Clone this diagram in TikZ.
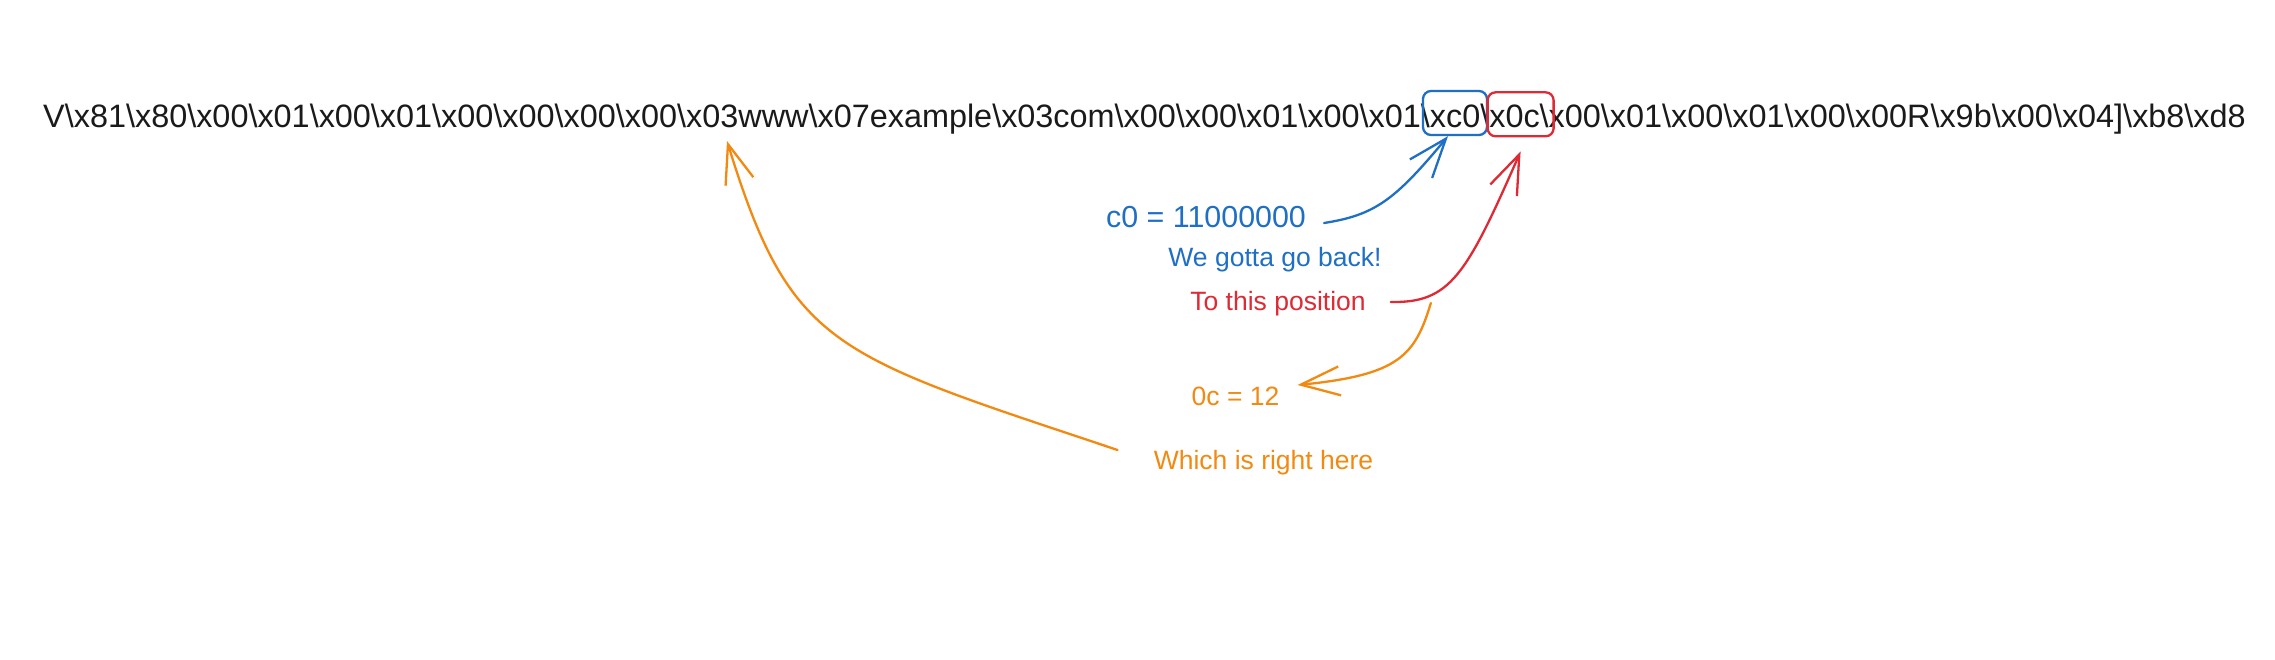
\documentclass[tikz,border=0pt]{standalone}
\usepackage{fontspec}
\setmainfont{Liberation Sans}
\usetikzlibrary{arrows.meta,calc}
\definecolor{cblue}{HTML}{1F6FC5}
\definecolor{cred}{HTML}{DD2A35}
\definecolor{corange}{HTML}{F28A12}
\definecolor{ctext}{HTML}{1A1A1A}
\newcommand{\bksl}{\textbackslash}
\begin{document}
\begin{tikzpicture}[x=1pt,y=-1pt,
  lbl/.style={inner sep=0pt, anchor=base, font=\fontsize{26.5}{30}\selectfont},
  conn/.style={line width=2.3pt, line cap=round, line join=round, -{Straight Barb[length=39pt,width=29pt]}},
  hbox/.style={draw, line width=2.3pt, rounded corners=8pt, minimum height=44pt, inner sep=0pt}]
\fill[white] (0,0) rectangle (2275,659);
\useasboundingbox (0,0) rectangle (2275,659);
\node[inner sep=0pt, anchor=base west, text=ctext, font=\fontsize{32.4}{38}\selectfont] (bytes) at (43,127)
 {V\bksl x81\bksl x80\bksl x00\bksl x01\bksl x00\bksl x01\bksl x00\bksl x00\bksl x00\bksl x00\bksl x03www\bksl x07example\bksl x03com\bksl x00\bksl x00\bksl x01\bksl x00\bksl x01\bksl xc0\bksl x0c\bksl x00\bksl x01\bksl x00\bksl x01\bksl x00\bksl x00R\bksl x9b\bksl x00\bksl x04]\bksl xb8\bksl xd8};
\node[hbox, draw=cblue, minimum width=64pt] (cbox) at (1455,113) {};
\node[hbox, draw=cred, minimum width=66pt] (rbox) at (1520.6,114.3) {};
\node[lbl, text=cblue, font=\fontsize{30.4}{34}\selectfont] (c0) at (1206,227) {c0 = 11000000};
\node[lbl, text=cblue] (back) at (1275,266) {We gotta go back!};
\node[lbl, text=cred] (pos) at (1278,310) {To this position};
\node[lbl, text=corange] (oc) at (1235.5,405) {0c = 12};
\node[lbl, text=corange] (here) at (1263.5,469) {Which is right here};
\draw[conn, cblue] ($(c0.base east)+(18,-4)$) .. controls (1375,215) and (1395,200) .. ($(cbox.south)+(-7,0)$);
\draw[conn, cred] ($(pos.base east)+(25,-8)$) .. controls (1450,303) and (1466,276) .. ($(rbox.south)+(0,14)$);
\draw[conn, corange] ($(pos.base east)+(65,-7)$) .. controls (1415,355) and (1400,375) .. ($(oc.base east)+(18,-20)$);
\draw[conn, corange] ($(here.base west)+(-36,-19)$) .. controls (834,355) and (791,349) .. ($(bytes.base west)+(684,14)$);
\end{tikzpicture}
\end{document}
